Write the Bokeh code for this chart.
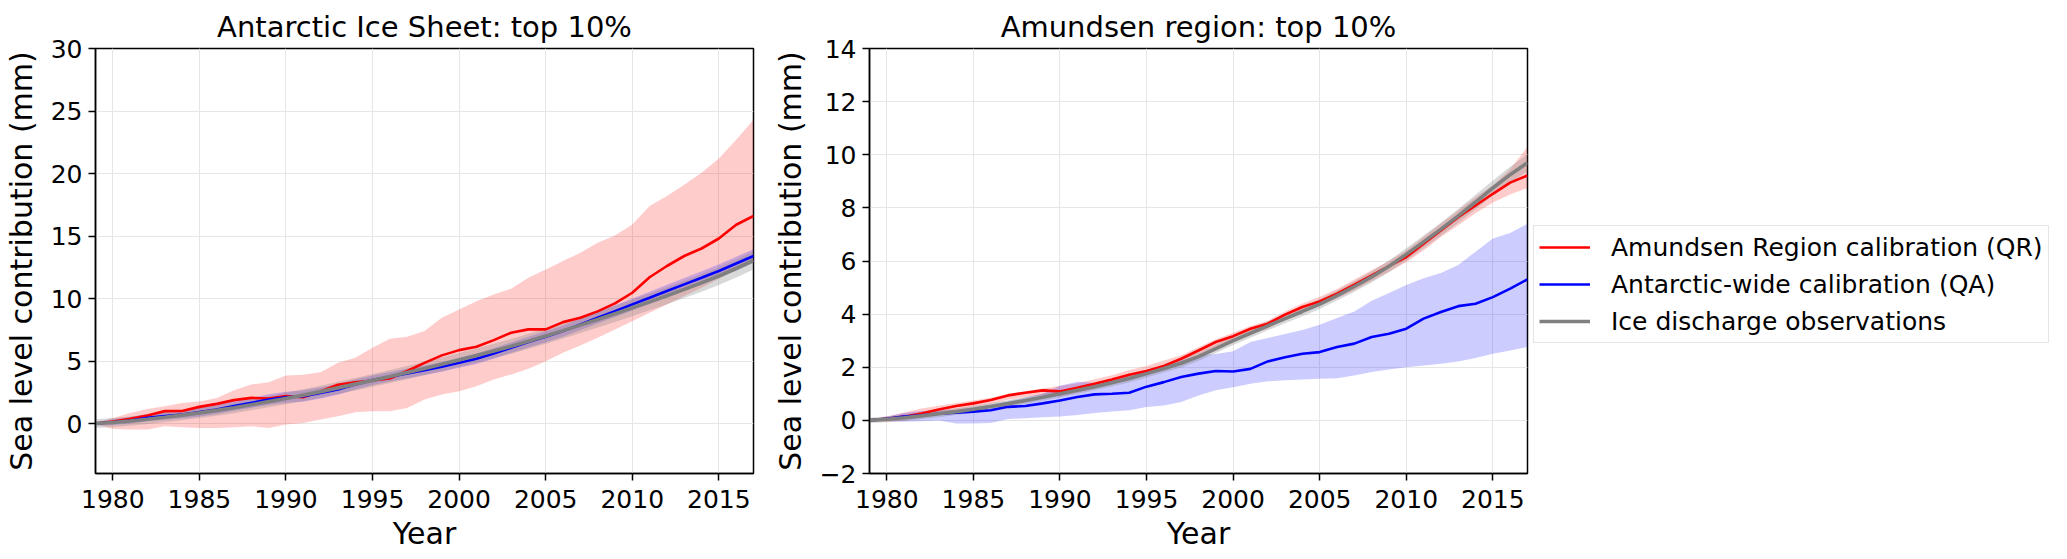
from bokeh.plotting import figure
from bokeh.layouts import row
from bokeh.models import Range1d, FixedTicker, Legend, LegendItem, CustomJSTickFormatter
from bokeh.embed import file_html
from bokeh.resources import INLINE

years = list(range(1979, 2018))

# Antarctic Ice Sheet (left panel)
ais_qr = [0, 0.16, 0.37, 0.64, 0.99, 1.0, 1.33, 1.57, 1.87, 2.05, 2.0, 2.19, 2.1, 2.59, 3.1, 3.3, 3.44, 3.6, 4.2,
          4.85, 5.45, 5.87, 6.14, 6.67, 7.26, 7.53, 7.53, 8.11, 8.46, 8.97, 9.61, 10.46, 11.7, 12.6, 13.4, 14.0, 14.8, 15.9, 16.6]
ais_qr_hi = [0.05, 0.45, 0.85, 1.17, 1.39, 1.65, 1.76, 2.05, 2.67, 3.12, 3.31, 3.84, 3.9, 4.11, 4.86, 5.26, 6.06, 6.78, 6.94,
             7.4, 8.46, 9.13, 9.79, 10.33, 10.78, 11.66, 12.33, 13.0, 13.66, 14.46, 15.05, 15.93, 17.4, 18.2, 19.1, 20.07, 21.2, 22.7, 24.3]
ais_qr_lo = [-0.05, -0.43, -0.48, -0.48, -0.21, -0.29, -0.35, -0.35, -0.29, -0.21, -0.35, -0.08, 0.05, 0.32, 0.59, 0.91, 0.99, 0.99, 1.25,
             1.92, 2.32, 2.59, 2.99, 3.52, 3.92, 4.38, 4.99, 5.66, 6.25, 6.86, 7.53, 8.19, 8.86, 9.53, 10.2, 10.86, 11.58, 12.3, 12.9]
ais_qa = [0, 0.1, 0.24, 0.45, 0.59, 0.72, 0.91, 1.12, 1.39, 1.65, 1.92, 2.1, 2.19, 2.45, 2.72, 3.12, 3.47, 3.74,
          4.0, 4.27, 4.54, 4.86, 5.18, 5.6, 6.06, 6.51, 6.94, 7.39, 7.93, 8.46, 8.99, 9.53, 10.06, 10.6, 11.13, 11.66, 12.2, 12.8, 13.4]
ais_qa_hi = [0.15, 0.35, 0.52, 0.75, 0.92, 1.07, 1.27, 1.5, 1.78, 2.06, 2.35, 2.55, 2.66, 2.9, 3.15, 3.52, 3.85, 4.12, 4.38, 4.65,
             4.93, 5.26, 5.6, 6.02, 6.48, 6.94, 7.38, 7.84, 8.38, 8.92, 9.46, 10.01, 10.55, 11.1, 11.64, 12.18, 12.74, 13.35, 13.95]
ais_qa_lo = [-0.15, -0.12, 0.0, 0.18, 0.3, 0.4, 0.57, 0.76, 1.02, 1.26, 1.5, 1.66, 1.74, 2.0, 2.3, 2.72, 3.08, 3.36, 3.62, 3.89,
             4.15, 4.46, 4.76, 5.18, 5.64, 6.08, 6.5, 6.94, 7.48, 8.0, 8.52, 9.05, 9.57, 10.1, 10.62, 11.14, 11.66, 12.25, 12.85]
ais_obs = [0, 0.08, 0.2, 0.34, 0.5, 0.67, 0.85, 1.05, 1.26, 1.5, 1.75, 2.0, 2.27, 2.55, 2.85, 3.15, 3.45, 3.76, 4.08, 4.4,
           4.74, 5.08, 5.44, 5.8, 6.18, 6.58, 7.0, 7.43, 7.87, 8.32, 8.78, 9.25, 9.73, 10.22, 10.73, 11.25, 11.8, 12.4, 13.05]
ais_obs_hi = [0.35, 0.44, 0.57, 0.72, 0.89, 1.07, 1.26, 1.47, 1.69, 1.94, 2.2, 2.46, 2.74, 3.03, 3.34, 3.65, 3.96, 4.28, 4.61, 4.94,
              5.29, 5.64, 6.01, 6.38, 6.77, 7.18, 7.61, 8.05, 8.5, 8.96, 9.43, 9.91, 10.4, 10.9, 11.42, 11.95, 12.51, 13.12, 13.78]
ais_obs_lo = [-0.35, -0.28, -0.17, -0.04, 0.11, 0.27, 0.44, 0.63, 0.83, 1.06, 1.3, 1.54, 1.8, 2.07, 2.36, 2.65, 2.94, 3.24, 3.55, 3.86,
              4.19, 4.52, 4.87, 5.22, 5.59, 5.98, 6.39, 6.81, 7.24, 7.68, 8.13, 8.59, 9.06, 9.54, 10.04, 10.55, 11.09, 11.68, 12.32]

# Amundsen region (right panel)
ase_qr = [0, 0.06, 0.14, 0.26, 0.41, 0.54, 0.64, 0.77, 0.94, 1.04, 1.13, 1.09, 1.23, 1.38, 1.54, 1.72, 1.86, 2.05,
          2.32, 2.63, 2.95, 3.17, 3.45, 3.64, 3.98, 4.27, 4.48, 4.77, 5.11, 5.46, 5.81, 6.15, 6.65, 7.15, 7.65, 8.09, 8.53, 8.95, 9.22]
ase_qr_hi = [0.05, 0.15, 0.3, 0.45, 0.55, 0.65, 0.75, 0.85, 1.0, 1.1, 1.2, 1.3, 1.4, 1.55, 1.7, 1.9, 2.05, 2.25, 2.45, 2.75,
             3.05, 3.3, 3.55, 3.75, 4.1, 4.4, 4.65, 4.95, 5.3, 5.65, 6.0, 6.4, 6.9, 7.4, 7.9, 8.4, 8.85, 9.45, 10.3]
ase_qr_lo = [-0.05, -0.05, 0.0, 0.1, 0.25, 0.38, 0.5, 0.62, 0.78, 0.88, 0.95, 0.9, 1.05, 1.2, 1.38, 1.55, 1.7, 1.88, 2.1, 2.45,
             2.75, 2.95, 3.25, 3.45, 3.8, 4.1, 4.3, 4.6, 4.9, 5.25, 5.6, 5.95, 6.4, 6.9, 7.35, 7.8, 8.2, 8.5, 8.75]
ase_qa = [0, 0.06, 0.14, 0.19, 0.25, 0.29, 0.33, 0.38, 0.51, 0.54, 0.64, 0.75, 0.88, 0.98, 1.0, 1.04, 1.27, 1.44, 1.63, 1.76,
          1.86, 1.84, 1.94, 2.22, 2.38, 2.51, 2.57, 2.76, 2.89, 3.14, 3.26, 3.45, 3.83, 4.08, 4.3, 4.39, 4.64, 4.96, 5.31]
ase_qa_hi = [0.02, 0.15, 0.28, 0.35, 0.37, 0.4, 0.5, 0.6, 0.72, 0.85, 1.0, 1.3, 1.45, 1.42, 1.5, 1.7, 1.85, 2.05, 2.25, 2.45,
             2.5, 2.6, 2.95, 3.1, 3.25, 3.4, 3.6, 3.85, 4.1, 4.5, 4.8, 5.1, 5.35, 5.55, 5.85, 6.35, 6.85, 7.05, 7.4]
ase_qa_lo = [-0.02, -0.03, -0.05, -0.03, 0.0, -0.12, -0.12, -0.1, 0.05, 0.08, 0.12, 0.15, 0.2, 0.28, 0.33, 0.38, 0.5, 0.56, 0.69, 0.94,
             1.13, 1.25, 1.38, 1.47, 1.51, 1.54, 1.57, 1.59, 1.69, 1.82, 1.92, 2.0, 2.07, 2.13, 2.22, 2.35, 2.51, 2.63, 2.76]
ase_obs = [0, 0.04, 0.1, 0.17, 0.25, 0.33, 0.42, 0.52, 0.63, 0.75, 0.87, 1.0, 1.13, 1.27, 1.42, 1.58, 1.76, 1.95, 2.15, 2.4,
           2.7, 3.0, 3.28, 3.56, 3.83, 4.1, 4.38, 4.7, 5.04, 5.4, 5.8, 6.25, 6.72, 7.2, 7.7, 8.22, 8.75, 9.25, 9.7]
ase_obs_hi = [0.1, 0.15, 0.22, 0.3, 0.38, 0.46, 0.55, 0.65, 0.76, 0.88, 1.0, 1.13, 1.27, 1.41, 1.56, 1.73, 1.91, 2.1, 2.31, 2.56,
              2.86, 3.16, 3.45, 3.73, 4.0, 4.28, 4.57, 4.89, 5.24, 5.61, 6.02, 6.48, 6.96, 7.45, 7.96, 8.49, 9.03, 9.55, 10.02]
ase_obs_lo = [-0.1, -0.07, -0.02, 0.04, 0.12, 0.2, 0.29, 0.39, 0.5, 0.62, 0.74, 0.87, 0.99, 1.13, 1.28, 1.43, 1.61, 1.8, 1.99, 2.24,
              2.54, 2.84, 3.11, 3.39, 3.66, 3.92, 4.19, 4.51, 4.84, 5.19, 5.58, 6.02, 6.48, 6.95, 7.44, 7.95, 8.47, 8.95, 9.38]

x_ticks = [1980, 1985, 1990, 1995, 2000, 2005, 2010, 2015]
left_yticks = [0, 5, 10, 15, 20, 25, 30]
right_yticks = [-2, 0, 2, 4, 6, 8, 10, 12, 14]
titles = ["Antarctic Ice Sheet: top 10%", "Amundsen region: top 10%"]
legend_labels = ["Amundsen Region calibration (QR)", "Antarctic-wide calibration (QA)", "Ice discharge observations"]

FONT = "DejaVu Sans"


def make_fig(title, yrange, yticks, lb, rb):
    p = figure(frame_width=658, frame_height=425,
               x_range=Range1d(1979, 2017), y_range=Range1d(*yrange),
               output_backend="svg", toolbar_location=None,
               min_border_left=lb, min_border_right=rb, min_border_top=48, min_border_bottom=80)
    p.title.text = title
    p.title.text_font = FONT
    p.title.text_font_size = "29px"
    p.title.text_font_style = "normal"
    p.title.text_color = "black"
    p.title.align = "center"
    p.title.standoff = 10
    p.xaxis.ticker = FixedTicker(ticks=x_ticks)
    p.yaxis.ticker = FixedTicker(ticks=yticks)
    p.xgrid.ticker = FixedTicker(ticks=x_ticks)
    p.ygrid.ticker = FixedTicker(ticks=yticks)
    p.grid.grid_line_color = "#e6e6e6"
    p.grid.grid_line_width = 1
    p.axis.major_label_text_font = FONT
    p.axis.major_label_text_font_size = "25px"
    p.axis.major_label_text_color = "black"
    p.axis.axis_label_text_font = FONT
    p.axis.axis_label_text_font_size = "30px"
    p.axis.axis_label_text_font_style = "normal"
    p.axis.axis_label_text_color = "black"
    p.axis.axis_line_width = 1.5
    p.axis.axis_line_color = "black"
    p.axis.major_tick_line_color = "black"
    p.axis.major_tick_line_width = 1.5
    p.axis.major_tick_out = 7
    p.axis.major_tick_in = 0
    p.axis.minor_tick_line_color = None
    p.yaxis.major_label_standoff = 6
    p.xaxis.major_label_standoff = 9
    p.xaxis.axis_label = "Year"
    p.xaxis.axis_label_standoff = 5
    p.yaxis.axis_label = "Sea level contribution (mm)"
    p.yaxis.axis_label_standoff = 9
    p.outline_line_color = "black"
    p.outline_line_width = 1.5
    p.outline_line_alpha = 1
    p.background_fill_color = "white"
    p.border_fill_color = "white"
    return p


def draw(p, qr, qr_lo, qr_hi, qa, qa_lo, qa_hi, obs, obs_lo, obs_hi):
    p.varea(x=years, y1=qr_lo, y2=qr_hi, fill_color="red", fill_alpha=0.2)
    p.varea(x=years, y1=qa_lo, y2=qa_hi, fill_color="blue", fill_alpha=0.2)
    p.varea(x=years, y1=obs_lo, y2=obs_hi, fill_color="gray", fill_alpha=0.3)
    r1 = p.line(years, qr, line_color="red", line_width=2.6)
    r2 = p.line(years, qa, line_color="blue", line_width=2.6)
    r3 = p.line(years, obs, line_color="gray", line_width=3.6)
    return r1, r2, r3


p1 = make_fig(titles[0], (-4, 30), left_yticks, 88, 16)
draw(p1, ais_qr, ais_qr_lo, ais_qr_hi, ais_qa, ais_qa_lo, ais_qa_hi, ais_obs, ais_obs_lo, ais_obs_hi)

p2 = make_fig(titles[1], (-2, 14), right_yticks, 94, 530)
p2.yaxis.formatter = CustomJSTickFormatter(code="return tick < 0 ? '\\u2212' + Math.abs(tick) : String(tick);")
r1, r2, r3 = draw(p2, ase_qr, ase_qr_lo, ase_qr_hi, ase_qa, ase_qa_lo, ase_qa_hi, ase_obs, ase_obs_lo, ase_obs_hi)

legend = Legend(items=[LegendItem(label=legend_labels[0], renderers=[r1]),
                       LegendItem(label=legend_labels[1], renderers=[r2]),
                       LegendItem(label=legend_labels[2], renderers=[r3])],
                location=(6, 130), orientation="vertical")
legend.label_text_font = FONT
legend.label_text_font_size = "25px"
legend.label_text_color = "black"
legend.glyph_width = 51
legend.glyph_height = 32
legend.label_height = 32
legend.label_standoff = 21
legend.spacing = 5
legend.padding = 5
legend.margin = 0
legend.border_line_color = "#cccccc"
legend.border_line_width = 1.5
legend.background_fill_alpha = 0.9
p2.add_layout(legend, "right")

layout = row(p1, p2)
open("out.html", "w").write(file_html(layout, INLINE))
